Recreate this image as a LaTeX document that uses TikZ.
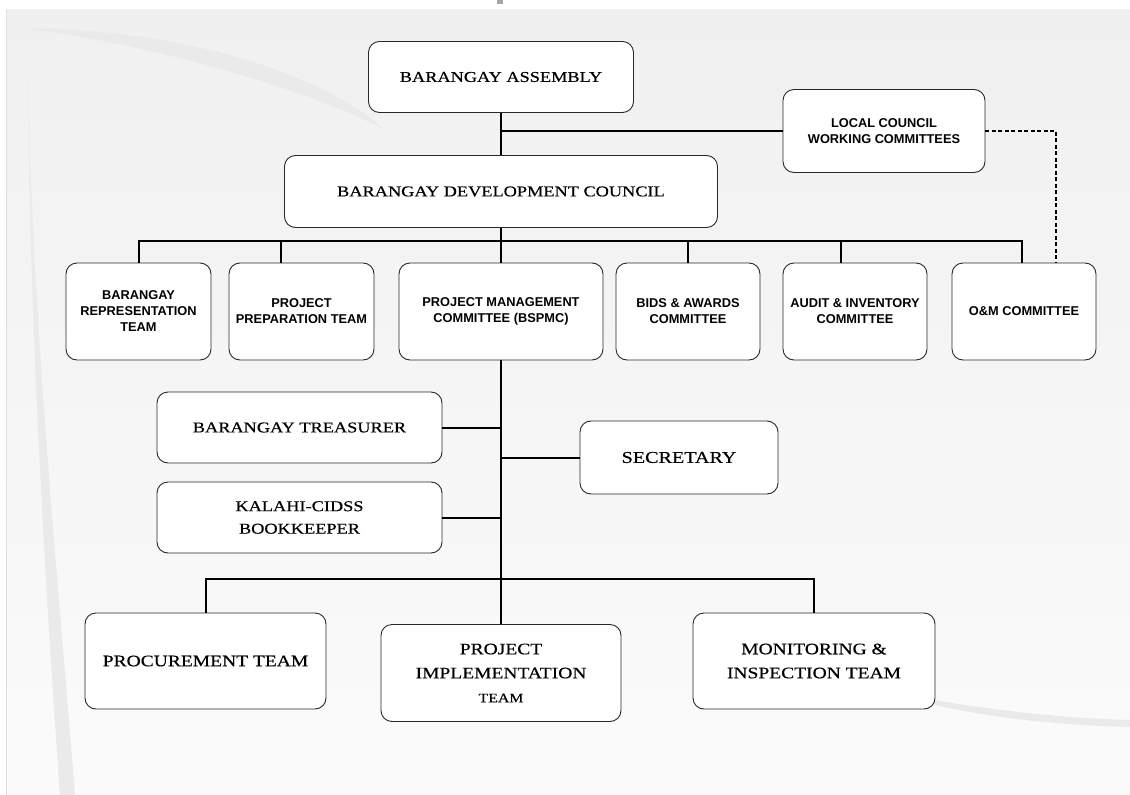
\documentclass[tikz,border=0pt]{standalone}
\usepackage{fontspec}
\setmainfont{Liberation Serif}[FakeStretch=1.22,FakeBold=0.4]
\newfontfamily\boxsans{Liberation Sans}
\usetikzlibrary{positioning,calc}
\definecolor{pagetop}{RGB}{240,240,241}
\definecolor{pagebot}{RGB}{251,251,252}
\definecolor{swoosh}{RGB}{234,234,235}
\definecolor{boxline}{RGB}{40,40,40}

\begin{document}
\begin{tikzpicture}[x=1pt,y=-1pt,every node/.style={align=center},
  orgbox/.style={draw=boxline,line width=0.9pt,rounded corners=11pt,fill=white,inner sep=2pt},
  serifbox/.style={orgbox,font=\fontsize{15}{22.5}\selectfont},
  bigbox/.style={orgbox,font=\fontsize{16}{24}\selectfont},
  sansbox/.style={orgbox,font=\boxsans\bfseries\fontsize{12.8}{16}\selectfont},
  link/.style={line width=2pt}]
\useasboundingbox (0,0) rectangle (1130,795);
% backdrop
\fill[white] (0,0) rectangle (1130,795);
\shade[top color=pagetop,bottom color=pagebot] (6,9) rectangle (1130,795);
\fill[swoosh] (25,28) .. controls (200,30) and (330,80) .. (385,130) .. controls (320,95) and (180,50) .. (25,28);
\fill[swoosh] (28,60) .. controls (30,300) and (60,600) .. (75,795) -- (60,795) .. controls (46,600) and (28,300) .. (28,60);
\fill[swoosh] (880,690) .. controls (980,710) and (1060,718) .. (1130,720) -- (1130,727) .. controls (1050,725) and (960,716) .. (880,690);
\draw[gray!25] (6,9) -- (6,795);
\fill[gray!70] (497,0) rectangle (503,4);

\node[serifbox,minimum width=265pt,minimum height=71pt] (asm) at (501,77) {BARANGAY ASSEMBLY};
\node[sansbox,minimum width=202pt,minimum height=83pt] (lcwc) at (884,131) {LOCAL COUNCIL\\WORKING COMMITTEES};
\node[serifbox,minimum width=433pt,minimum height=72pt] (bdc) at (501,191.5) {BARANGAY DEVELOPMENT COUNCIL};

\node[sansbox,minimum width=145pt,minimum height=97pt] (brt) at (138.5,311.5) {BARANGAY\\REPRESENTATION\\TEAM};
\node[sansbox,minimum width=145pt,minimum height=97pt] (ppt) at (301.5,311.5) {PROJECT\\PREPARATION TEAM};
\node[sansbox,minimum width=204pt,minimum height=97pt] (pmc) at (501,311.5) {PROJECT MANAGEMENT\\COMMITTEE (BSPMC)};
\node[sansbox,minimum width=144pt,minimum height=97pt] (bac) at (688,311.5) {BIDS \& AWARDS\\COMMITTEE};
\node[sansbox,minimum width=144pt,minimum height=97pt] (aic) at (855,311.5) {AUDIT \& INVENTORY\\COMMITTEE};
\node[sansbox,minimum width=144pt,minimum height=97pt] (om) at (1024,311.5) {O\&M COMMITTEE};

\node[serifbox,minimum width=285pt,minimum height=71pt] (treas) at (299.5,427.5) {BARANGAY TREASURER};
\node[serifbox,minimum width=285pt,minimum height=71pt] (bkpr) at (299.5,517.5) {KALAHI-CIDSS\\BOOKKEEPER};
\node[serifbox,minimum width=198pt,minimum height=73pt,font=\fontsize{16.5}{24}\selectfont] (sec) at (679,457.5) {SECRETARY};

\node[bigbox,minimum width=241pt,minimum height=96pt] (proc) at (205.5,661) {PROCUREMENT TEAM};
\node[bigbox,minimum width=240pt,minimum height=97pt] (pit) at (501,673) {PROJECT\\IMPLEMENTATION\\{\fontsize{13}{24}\selectfont TEAM}};
\node[bigbox,minimum width=242pt,minimum height=96pt] (mit) at (814,661) {MONITORING \&\\INSPECTION TEAM};

% upper tree
\draw[link] (asm) -- (bdc);
\draw[link] (lcwc.west) -- (lcwc.west -| asm.south);
\draw[link,dash pattern=on 4pt off 2.5pt] (lcwc.east) -| ([xshift=32pt]om.north);
\draw[link] (bdc.south) -- (bdc.south |- pmc.north);
\draw[link] (brt.north) -- ++(0,-22) -| ([xshift=-2pt]om.north);
\foreach \n/\dx in {ppt/-21,bac/0,aic/-14}
  \draw[link] ([xshift=\dx pt]\n.north) -- ++(0,-22);
% staff of the BSPMC
\draw[link] (pmc.south) -- (pmc.south |- pit.north);
\draw[link] (treas.east) -- (treas.east -| pmc.south);
\draw[link] (bkpr.east) -- (bkpr.east -| pmc.south);
\draw[link] (sec.west) -- (sec.west -| pmc.south);
% teams
\draw[link] (proc.north) -- ++(0,-34) -| (mit.north);
\end{tikzpicture}
\end{document}
